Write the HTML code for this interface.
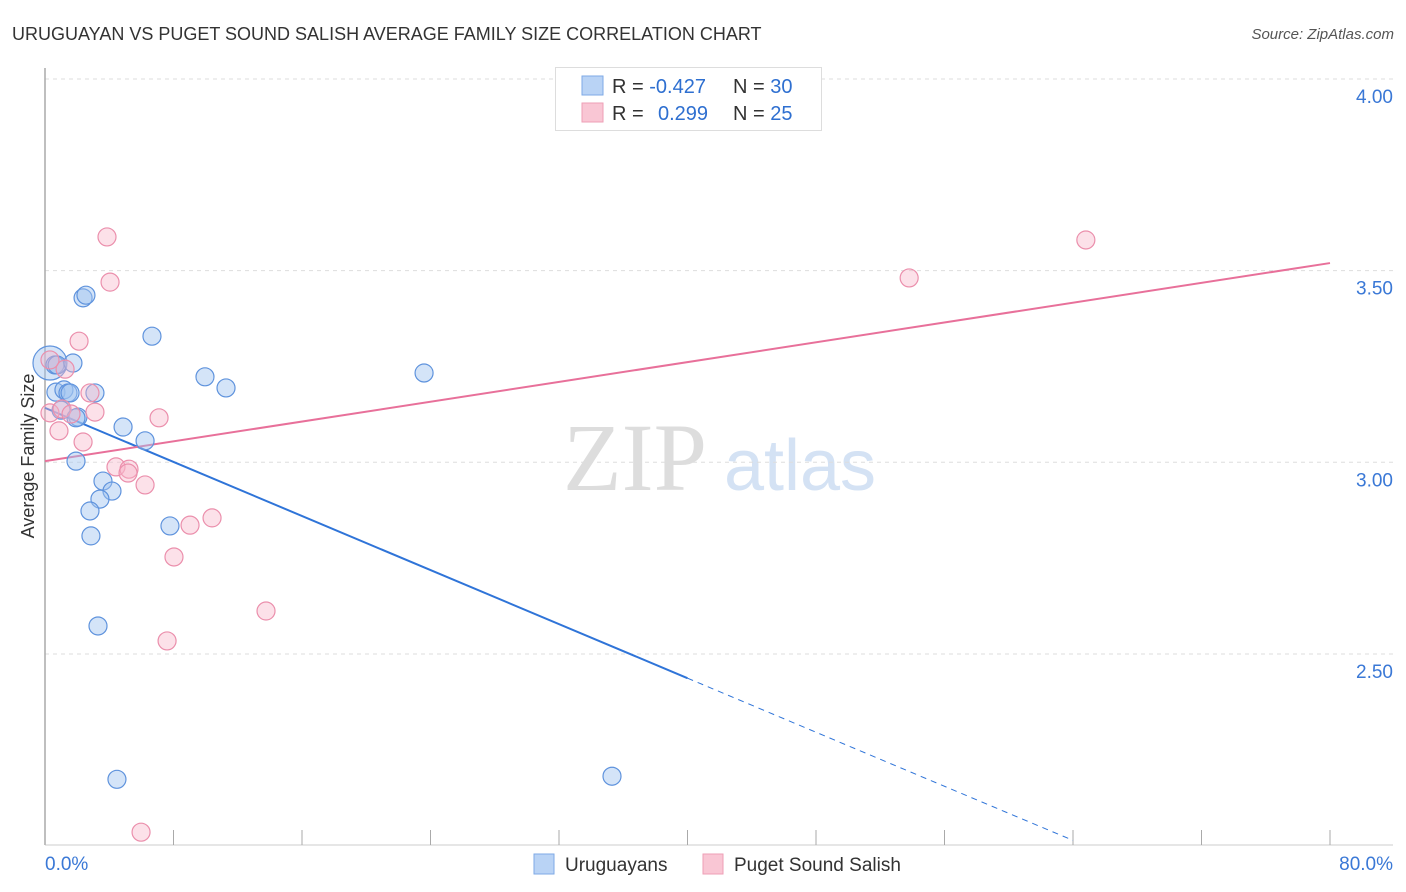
<!DOCTYPE html>
<html><head><meta charset="utf-8"><style>
body{margin:0;background:#fff;font-family:"Liberation Sans",sans-serif}
svg{display:block}
</style></head><body>
<svg id="chart" width="1406" height="892" xmlns="http://www.w3.org/2000/svg">
<text x="12" y="40" font-size="18" fill="#333">URUGUAYAN VS PUGET SOUND SALISH AVERAGE FAMILY SIZE CORRELATION CHART</text>
<text x="1394" y="39" font-size="15" fill="#555" font-style="italic" text-anchor="end">Source: ZipAtlas.com</text>
<text x="0" y="0" transform="translate(34,456) rotate(-90)" font-size="18" fill="#333" text-anchor="middle">Average Family Size</text>
<g>
<text x="635" y="490" font-size="96" fill="#ddd" text-anchor="middle" font-family="Liberation Serif,serif">ZIP</text>
<text x="800" y="490" font-size="72" fill="#d4e2f4" text-anchor="middle">atlas</text>
</g>
<g id="grid"></g><g id="axes"></g><g id="lines"></g><g id="points"></g>
<g>
<rect x="555.5" y="67.5" width="266" height="63" fill="#fff" stroke="#ddd"/>
<rect x="582" y="76" width="21" height="19" fill="#b9d3f5" stroke="#7eaae6"/>
<rect x="582" y="103" width="21" height="19" fill="#f9c6d4" stroke="#ee9fb6"/>
<text x="612" y="93" font-size="20" fill="#333">R = <tspan fill="#2e6fd0">-0.427</tspan><tspan x="733">N = </tspan><tspan fill="#2e6fd0">30</tspan></text>
<text x="612" y="120" font-size="20" fill="#333">R = <tspan x="658" fill="#2e6fd0">0.299</tspan><tspan x="733">N = </tspan><tspan fill="#2e6fd0">25</tspan></text>
</g>
<g>
<rect x="534" y="854" width="20" height="20" fill="#b9d3f5" stroke="#7eaae6"/>
<text x="565" y="871" font-size="19" fill="#333">Uruguayans</text>
<rect x="703" y="854" width="20" height="20" fill="#f9c6d4" stroke="#ee9fb6"/>
<text x="734" y="871" font-size="19" fill="#333">Puget Sound Salish</text>
</g>
</svg>
<script>
const yTicks=[4.0,3.5,3.0,2.5];
const yTickLabels=["4.00","3.50","3.00","2.50"];
const xTicks=[0,8,16,24,32,40,48,56,64,72,80];
const blueX=[0.31,0.62,0.75,1.74,0.68,1.18,1.43,1.56,3.11,1.0,2.05,2.37,2.55,6.66,4.86,6.23,9.96,11.27,23.6,1.93,3.61,4.17,3.42,2.80,2.86,7.78,3.30,4.48,35.3,1.93];
const blueY=[3.259,3.254,3.254,3.259,3.183,3.189,3.181,3.181,3.181,3.136,3.118,3.429,3.436,3.329,3.092,3.056,3.223,3.194,3.233,3.003,2.951,2.925,2.904,2.873,2.808,2.834,2.573,2.173,2.181,3.116];
const pinkX=[3.86,4.05,2.12,1.25,2.80,0.31,1.06,1.62,3.11,0.87,2.37,7.10,4.42,5.23,5.17,6.23,9.03,10.40,8.03,13.76,7.60,5.98,53.8,64.8,0.31];
const pinkY=[3.588,3.470,3.316,3.243,3.181,3.129,3.139,3.126,3.131,3.082,3.053,3.116,2.988,2.982,2.972,2.941,2.836,2.855,2.753,2.612,2.534,2.035,3.481,3.580,3.267];
const blueTrend=[3.142,-0.01763];
const pinkTrend=[3.003,0.00646];
const NS="http://www.w3.org/2000/svg";
const X=v=>45+v*1285/80, Y=v=>79+(4-v)*383.3;
function mk(p,t,a){const e=document.createElementNS(NS,t);for(const k in a)e.setAttribute(k,a[k]);document.getElementById(p).appendChild(e);return e;}
yTicks.forEach((t,i)=>{
 const g=mk('grid','line',{x1:45,x2:1393,y1:Y(t),y2:Y(t),stroke:'#ddd','stroke-dasharray':'4,4'});
 
 
 const l=mk('grid','text',{x:1393,y:Y(t)+24,'font-size':19,fill:'#3a78d6','text-anchor':'end'});
 l.textContent=yTickLabels[i];
 
 
});
const ax=mk('axes','line',{x1:45,x2:45,y1:68,y2:845,stroke:'#aaa','stroke-width':1.5});


const bx=mk('axes','line',{x1:45,x2:1393,y1:845,y2:845,stroke:'#ccc'});


xTicks.forEach(t=>{
 const tk=mk('axes','line',{x1:X(t),x2:X(t),y1:830,y2:845,stroke:'#aaa'});
 
 
});
const x0=mk('axes','text',{x:45,y:870,'font-size':19,fill:'#3a78d6'});x0.textContent='0.0%';


const x1=mk('axes','text',{x:1393,y:870,'font-size':19,fill:'#3a78d6','text-anchor':'end'});x1.textContent='80.0%';


const bt=v=>blueTrend[0]+blueTrend[1]*v, pt=v=>pinkTrend[0]+pinkTrend[1]*v;
const bl=mk('lines','line',{x1:X(0),y1:Y(bt(0)),x2:X(40),y2:Y(bt(40)),stroke:'#2f74d8','stroke-width':2});


const bd=mk('lines','line',{x1:X(40),y1:Y(bt(40)),x2:X(64),y2:Y(bt(64)),stroke:'#2f74d8','stroke-width':1,'stroke-dasharray':'6,5'});


const pl=mk('lines','line',{x1:X(0),y1:Y(pt(0)),x2:X(80),y2:Y(pt(80)),stroke:'#e8709a','stroke-width':2});


blueX.forEach((v,i)=>{
 const c=mk('points','circle',{cx:X(v),cy:Y(blueY[i]),r:i===0?17:9,fill:'rgba(160,196,240,0.45)',stroke:'#5f93dd','stroke-width':1.2});
 
 
});
pinkX.forEach((v,i)=>{
 const c=mk('points','circle',{cx:X(v),cy:Y(pinkY[i]),r:9,fill:'rgba(248,180,200,0.4)',stroke:'#eb8fac','stroke-width':1.2});
 
 
});
</script>
</body></html>
